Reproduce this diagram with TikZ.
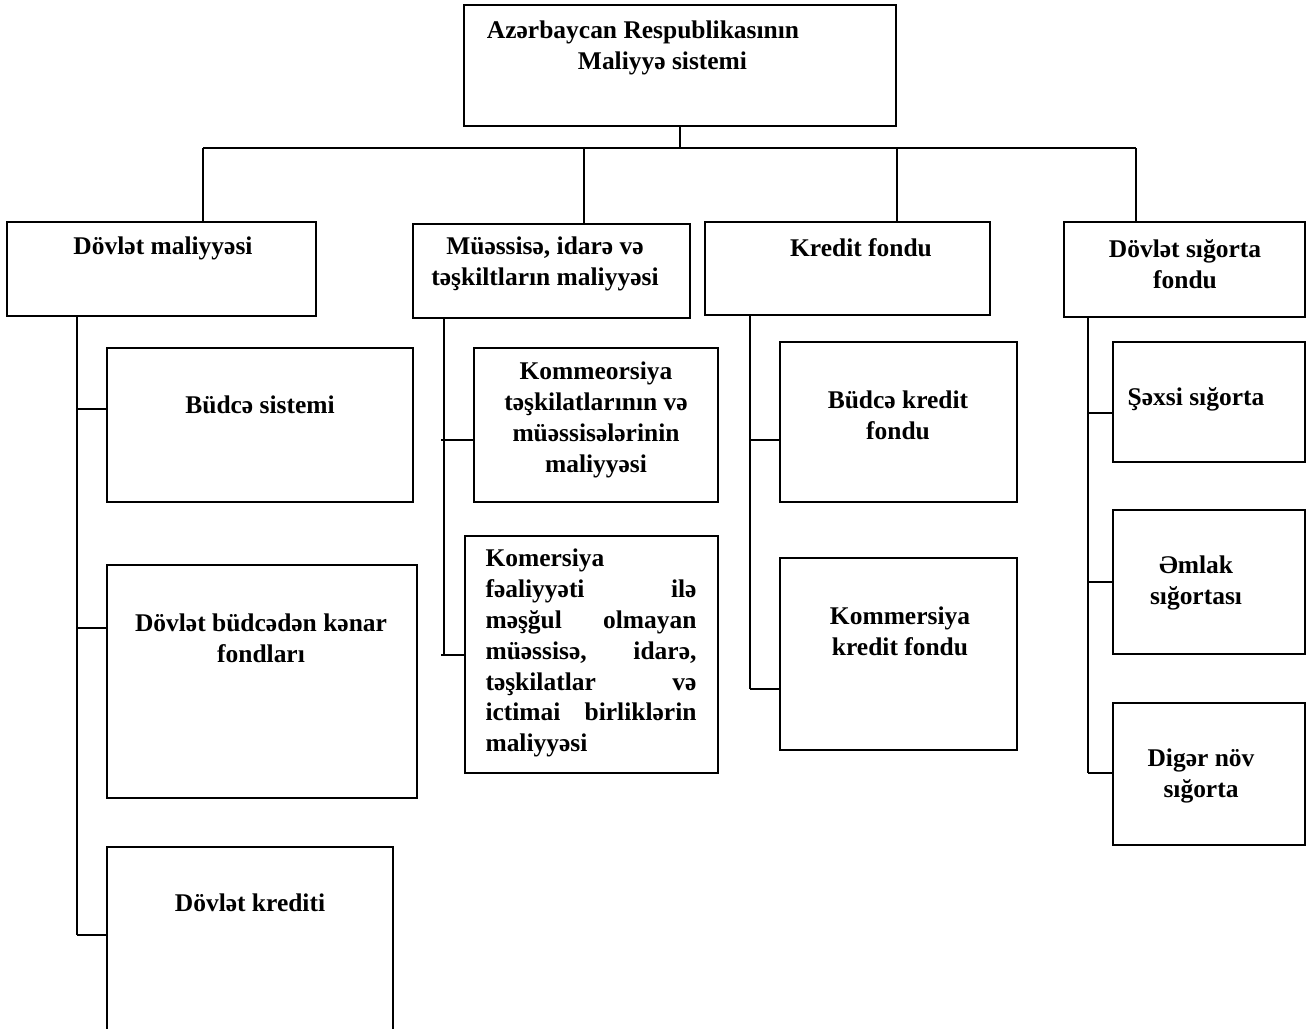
\documentclass[tikz,border=0pt]{standalone}
\usepackage{fontspec}
\setmainfont{Liberation Serif}
\usetikzlibrary{positioning,fit}

\begin{document}
\begin{tikzpicture}
    [x=0.02cm,y=-0.02cm,line width=1.1pt,
     box/.style={draw, rectangle, inner sep=0pt},
     txt/.style={font=\fontsize{14.5}{17.6}\selectfont\bfseries, align=center, inner sep=0pt}]
  \useasboundingbox (0,0) rectangle (1310,1028);
  \clip (0,0) rectangle (1310,1028);

  \node[box, fit={(464,5) (896,126)}] (top) {};
  \node[txt, align=left, anchor=north west] (topt) at (486,20) {Azərbaycan Respublikasının\\\hspace*{1.82cm}Maliyyə sistemi};

  \node[box, fit={(7,222) (316,316)}] (dm) {};
  \node[txt] (dmt) at (163,248) {Dövlət maliyyəsi};
  \node[box, fit={(413,224) (690,318)}] (mi) {};
  \node[txt] (mit) at (545,264) {Müəssisə, idarə və\\təşkiltların maliyyəsi};
  \node[box, fit={(705,222) (990,315)}] (kf) {};
  \node[txt] (kft) at (861,248) {Kredit fondu};
  \node[box, fit={(1064,222) (1305,317)}] (ds) {};
  \node[txt] (dst) at (1185,264) {Dövlət sığorta\\fondu};

  \node[box, fit={(107,348) (413,502)}] (bs) {};
  \node[txt] (bst) at (260,405) {Büdcə sistemi};
  \node[box, fit={(107,565) (417,798)}] (bk) {};
  \node[txt] (bkt) at (261,638) {Dövlət büdcədən kənar\\fondları};
  \node[box, fit={(107,847) (393,1040)}] (dk) {};
  \node[txt] (dkt) at (250,903) {Dövlət krediti};

  \node[box, fit={(474,348) (718,502)}] (km) {};
  \node[txt] (kmt) at (596,420) {Kommeorsiya\\təşkilatlarının və\\müəssisələrinin\\maliyyəsi};
  \node[box, fit={(465,536) (718,773)}] (ko) {};
  \node[txt, align=justify, text width=4.22cm] (kot) at (591,653) {Komersiya\linebreak fəaliyyəti ilə\linebreak məşğul olmayan\linebreak müəssisə, idarə,\linebreak təşkilatlar və\linebreak ictimai birliklərin\linebreak maliyyəsi};

  \node[box, fit={(780,342) (1017,502)}] (bf) {};
  \node[txt] (bft) at (898,415) {Büdcə kredit\\fondu};
  \node[box, fit={(780,558) (1017,750)}] (kk) {};
  \node[txt] (kkt) at (900,631) {Kommersiya\\kredit fondu};

  \node[box, fit={(1113,342) (1305,462)}] (ss) {};
  \node[txt] (sst) at (1196,399) {Şəxsi sığorta};
  \node[box, fit={(1113,510) (1305,654)}] (em) {};
  \node[txt] (emt) at (1196,583) {Əmlak\\sığortası};
  \node[box, fit={(1113,703) (1305,845)}] (dn) {};
  \node[txt] (dnt) at (1201,776) {Digər növ\\sığorta};

  \coordinate (d1) at (203,148);
  \coordinate (d2) at (584,148);
  \coordinate (d3) at (897,148);
  \coordinate (d4) at (1136,148);
  \draw (top.south) -- (top.south |- d1);
  \draw (d1) -- (d4);
  \foreach \d/\b in {d1/dm, d2/mi, d3/kf, d4/ds}
    \draw (\d) -- (\d |- \b.north);

  \foreach \b/\x/\y in {dm/77/935, mi/444/655, kf/750/689, ds/1088/773}
    \draw (\b.south -| \x,0) -- (\x,\y);

  \foreach \x/\y/\b in {77/409/bs, 77/628/bk, 77/935/dk, 441/440/km, 441/655/ko, 750/440/bf, 750/689/kk, 1088/413/ss, 1088/582/em, 1088/773/dn}
    \draw (\x,\y) -- (\b.west |- \x,\y);
\end{tikzpicture}
\end{document}
